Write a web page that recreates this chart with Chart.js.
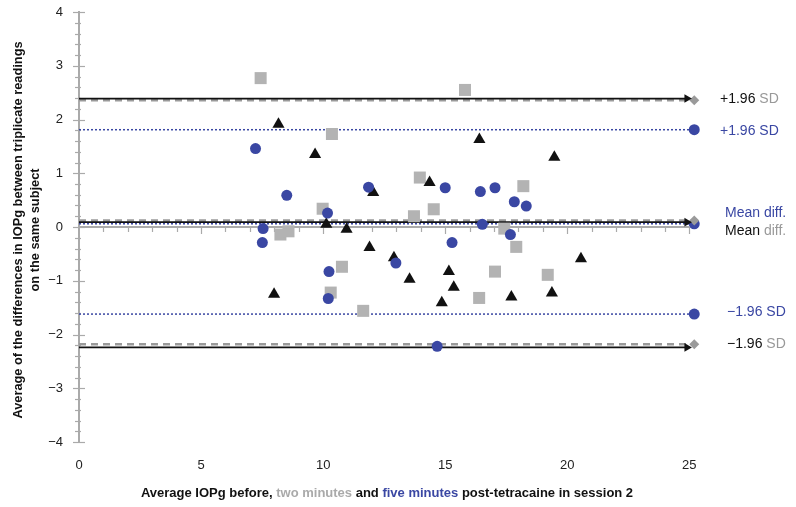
<!DOCTYPE html>
<html>
<head>
<meta charset="utf-8">
<script src="https://cdn.jsdelivr.net/npm/chart.js@4.4.0/dist/chart.umd.min.js"></script>
<style>
  html, body { margin: 0; padding: 0; background: #fff; }
  #wrap { width: 796px; height: 507px; }
</style>
</head>
<body>
<div id="wrap"><canvas id="chart" width="796" height="507"></canvas></div>
<script>
// Ticks
const xTicks = [0, 5, 10, 15, 20, 25];
const yTicks = [-4, -3, -2, -1, 0, 1, 2, 3, 4];

// Before (black triangles)
const beforeX = [8.17, 9.67, 12.05, 10.13, 10.96, 11.9, 12.9, 13.54, 7.99, 16.4, 19.47, 14.36, 20.56, 15.15, 15.35, 14.86, 17.71, 19.37];
const beforeY = [1.91, 1.35, 0.64, 0.05, -0.04, -0.38, -0.57, -0.97, -1.25, 1.63, 1.30, 0.83, -0.59, -0.83, -1.12, -1.41, -1.30, -1.23];

// Two minutes (grey squares)
const twoMinX = [7.44, 10.36, 13.96, 9.98, 13.72, 8.25, 8.58, 10.77, 10.31, 11.64, 15.81, 18.2, 14.53, 17.42, 17.91, 17.04, 16.39, 19.2];
const twoMinY = [2.77, 1.73, 0.92, 0.34, 0.2, -0.14, -0.08, -0.74, -1.22, -1.56, 2.55, 0.76, 0.33, -0.03, -0.37, -0.83, -1.32, -0.89];

// Five minutes (blue circles)
const fiveMinX = [7.23, 8.51, 11.86, 10.18, 7.54, 7.51, 12.98, 10.24, 10.21, 15.0, 16.44, 17.04, 17.83, 18.32, 16.52, 17.67, 15.28, 14.67];
const fiveMinY = [1.46, 0.59, 0.74, 0.26, -0.03, -0.29, -0.67, -0.83, -1.33, 0.73, 0.66, 0.73, 0.47, 0.39, 0.05, -0.14, -0.29, -2.22];

// Limits of agreement: +1.96 SD, mean diff, -1.96 SD
const beforeLimits = [2.39, 0.09, -2.24];
const twoMinLimits = [2.36, 0.12, -2.18];
const fiveMinLimits = [1.81, 0.06, -1.62];
const arrowEnd = 24.9;
const lineEnd = 25.2;

const BLACK = '#111111';
const GREY = '#b3b3b3';
const GREY_LINE = '#9a9a9a';
const BLUE = '#3a47a3';
const FONT = '"Liberation Sans", Arial, sans-serif';

const toPoints = (xs, ys) => xs.map((x, i) => ({ x: x, y: ys[i] }));

function limitLine(v, end, color, width, dash, style, radius, rotation) {
  return {
    data: [{ x: 0, y: v }, { x: end, y: v }],
    showLine: true,
    borderColor: color,
    backgroundColor: color,
    borderWidth: width,
    borderDash: dash,
    pointRadius: [0, radius],
    pointStyle: style,
    pointRotation: rotation || 0,
    pointBorderWidth: 0,
  };
}

const datasets = [
  { data: toPoints(fiveMinX, fiveMinY), pointStyle: 'circle', pointRadius: 5.5, backgroundColor: BLUE, borderWidth: 0 },
  { data: toPoints(beforeX, beforeY), pointStyle: 'triangle', pointRadius: 7, backgroundColor: BLACK, borderWidth: 0 },
  { data: toPoints(twoMinX, twoMinY), pointStyle: 'rect', pointRadius: 8.5, backgroundColor: GREY, borderWidth: 0 },
];
beforeLimits.forEach(v => datasets.push(limitLine(v, arrowEnd, BLACK, 1.8, [], 'triangle', 5, 90)));
twoMinLimits.forEach(v => datasets.push(limitLine(v, lineEnd, GREY_LINE, 2.5, [7, 5], 'rectRot', 5)));
fiveMinLimits.forEach(v => datasets.push(limitLine(v, lineEnd, BLUE, 1.5, [2, 2], 'circle', 5.5)));

// coloured pieces of text
function drawPieces(ctx, pieces, x, y, align) {
  let total = 0;
  pieces.forEach(p => total += ctx.measureText(p[0]).width);
  let cx = align === 'center' ? x - total / 2 : x;
  ctx.textAlign = 'left';
  pieces.forEach(p => {
    ctx.fillStyle = p[1];
    ctx.fillText(p[0], cx, y);
    cx += ctx.measureText(p[0]).width;
  });
}

const decor = {
  id: 'decor',
  beforeDatasetsDraw(chart) {
    const { ctx, scales: { x, y } } = chart;
    ctx.save();
    ctx.strokeStyle = '#aaaaaa';
    const y0 = y.getPixelForValue(0);
    ctx.lineWidth = 2;
    ctx.beginPath();
    ctx.moveTo(x.getPixelForValue(0), y0);
    ctx.lineTo(x.getPixelForValue(25), y0);
    ctx.stroke();
    ctx.lineWidth = 1.2;
    for (let v = 1; v <= 25; v++) {
      const px = Math.round(x.getPixelForValue(v)) + 0.5;
      const len = v % 5 === 0 ? 7 : 5;
      ctx.beginPath();
      ctx.moveTo(px, y0);
      ctx.lineTo(px, y0 + len);
      ctx.stroke();
    }
    const xa = x.getPixelForValue(0);
    for (let i = -20; i <= 20; i++) {
      const py = Math.round(y.getPixelForValue(i / 5)) + 0.5;
      const major = i % 5 === 0;
      ctx.beginPath();
      ctx.moveTo(xa - (major ? 6 : 4), py);
      ctx.lineTo(xa + (major ? 6 : 2), py);
      ctx.stroke();
    }
    ctx.restore();
  },
  afterDraw(chart) {
    const ctx = chart.ctx;
    ctx.save();
    ctx.textBaseline = 'middle';

    // y axis title
    ctx.font = 'bold 12.8px ' + FONT;
    ctx.fillStyle = BLACK;
    ctx.textAlign = 'center';
    ctx.save();
    ctx.translate(18, 230);
    ctx.rotate(-Math.PI / 2);
    ctx.fillText('Average of the differences in IOPg between triplicate readings', 0, 0);
    ctx.restore();
    ctx.save();
    ctx.translate(35, 230);
    ctx.rotate(-Math.PI / 2);
    ctx.fillText('on the same subject', 0, 0);
    ctx.restore();

    // x axis title
    ctx.font = 'bold 13px ' + FONT;
    drawPieces(ctx, [
      ['Average IOPg before, ', BLACK],
      ['two minutes', '#aaaaaa'],
      [' and ', BLACK],
      ['five minutes', BLUE],
      [' post-tetracaine in session 2', BLACK],
    ], 387, 493, 'center');

    // right-hand labels
    ctx.font = '14px ' + FONT;
    drawPieces(ctx, [['+1.96 ', BLACK], ['SD', '#999999']], 720, 99);
    drawPieces(ctx, [['+1.96 SD', BLUE]], 720, 131);
    drawPieces(ctx, [['Mean diff.', BLUE]], 725, 213);
    drawPieces(ctx, [['Mean ', BLACK], ['diff.', '#999999']], 725, 231);
    drawPieces(ctx, [['\u22121.96 SD', BLUE]], 727, 312);
    drawPieces(ctx, [['\u22121.96 ', BLACK], ['SD', '#999999']], 727, 344);
    ctx.restore();
  }
};

new Chart(document.getElementById('chart'), {
  type: 'scatter',
  data: { datasets: datasets },
  options: {
    responsive: false,
    animation: false,
    devicePixelRatio: 1,
    layout: { padding: { left: 0, right: 92, top: 12, bottom: 0 } },
    plugins: { legend: { display: false }, tooltip: { enabled: false } },
    scales: {
      x: {
        type: 'linear',
        min: 0,
        max: 25.6,
        grid: { display: false, drawTicks: false },
        border: { display: false },
        afterBuildTicks: s => { s.ticks = xTicks.map(v => ({ value: v })); },
        afterFit: s => { s.height = 65; },
        ticks: { padding: 16, color: '#222', font: { size: 13, family: FONT } },
      },
      y: {
        type: 'linear',
        min: -4,
        max: 4,
        grid: { display: false, drawTicks: false },
        border: { display: true, color: '#aaaaaa', width: 2 },
        afterBuildTicks: s => { s.ticks = yTicks.map(v => ({ value: v })); },
        afterFit: s => { s.width = 79; s.paddingTop = 0; s.paddingBottom = 0; },
        ticks: {
          padding: 16,
          color: '#222',
          font: { size: 13, family: FONT },
          callback: v => (v < 0 ? '\u2212' + Math.abs(v) : String(v)),
        },
      },
    },
  },
  plugins: [decor],
});
</script>
</body>
</html>
